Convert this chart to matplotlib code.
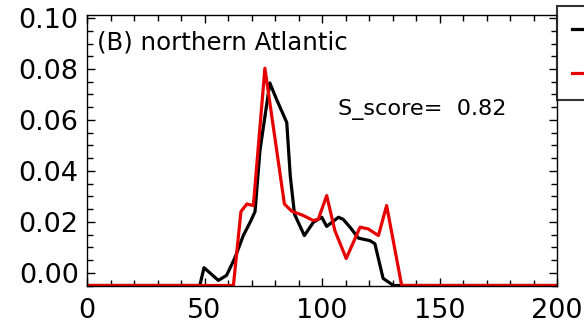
import numpy as np
import matplotlib
matplotlib.use("Agg")
import matplotlib.pyplot as plt
from matplotlib.ticker import MultipleLocator, FormatStrFormatter

# values; -0.005 marks the empty bins drawn on the bottom axis
black_x = [0, 48.0, 49.8, 55.9, 59.4, 63.0, 66.5, 69.4, 71.5, 73.6, 77.8, 80.7, 85.0, 86.5,
           88.3, 92.5, 96.3, 99.9, 102.0, 107.0, 109.0, 112.0, 115.5, 120.4, 122.5, 126.0,
           130.4, 200]
black_y = [-0.005, -0.005, 0.002, -0.003, -0.001, 0.006, 0.0146, 0.0198, 0.024, 0.048, 0.0745,
           0.068, 0.059, 0.038, 0.023, 0.0146, 0.0198, 0.0218, 0.0182, 0.0218, 0.021, 0.0178,
           0.0136, 0.0126, 0.0114, -0.0022, -0.005, -0.005]

red_x = [0, 62.3, 65.5, 68.0, 70.8, 75.7, 84.0, 87.1, 92.0, 96.3, 98.4, 102.0, 105.5, 110.3,
         116.2, 119.7, 124.0, 127.5, 133.9, 200]
red_y = [-0.005, -0.005, 0.024, 0.027, 0.0264, 0.0803, 0.027, 0.0242, 0.0225, 0.0205, 0.021,
         0.0303, 0.0165, 0.0056, 0.0179, 0.0172, 0.0146, 0.0264, -0.005, -0.005]

series_labels = ["Obs", "Model"]
panel_title = "(B) northern Atlantic"
s_score = 0.82

plt.rcParams['font.family'] = ['DejaVu Sans']

fig = plt.figure(figsize=(5.84, 3.27), dpi=100)
ax = fig.add_axes([87 / 584, 1 - 285.5 / 327, 470 / 584, 270.5 / 327])

ax.plot(black_x, black_y, color="black", lw=2.3, label=series_labels[0])
ax.plot(red_x, red_y, color="#e60000", lw=2.3, label=series_labels[1])

ax.set_xlim(0, 200)
ax.set_ylim(-0.005, 0.1012)
ax.xaxis.set_major_locator(MultipleLocator(50))
ax.xaxis.set_minor_locator(MultipleLocator(10))
ax.yaxis.set_major_locator(MultipleLocator(0.02))
ax.yaxis.set_minor_locator(MultipleLocator(0.005))
ax.yaxis.set_major_formatter(FormatStrFormatter("%.2f"))
ax.tick_params(which="both", direction="in", top=True, right=True, width=1.0)
ax.tick_params(which="major", length=6)
ax.tick_params(which="minor", length=4)
ax.tick_params(axis="x", labelsize=19.5, pad=9)
ax.tick_params(axis="y", labelsize=19.5, pad=6)
for sp in ax.spines.values():
    sp.set_linewidth(1.0)

ax.text(0.021, 0.874, panel_title, transform=ax.transAxes, fontsize=17.6, va="baseline")
ax.text(0.534, 0.630, f"S_score=  {s_score:.2f}", transform=ax.transAxes,
        fontsize=16.1, va="baseline")

leg = ax.legend(loc="upper left", bbox_to_anchor=(1.0, 1.033), borderaxespad=0,
                fontsize=16, frameon=True, fancybox=False, borderpad=0.68,
                labelspacing=1.07, handlelength=2.0)
leg.get_frame().set_edgecolor("black")
leg.get_frame().set_linewidth(1.5)

fig.savefig("out.png", dpi=100)
